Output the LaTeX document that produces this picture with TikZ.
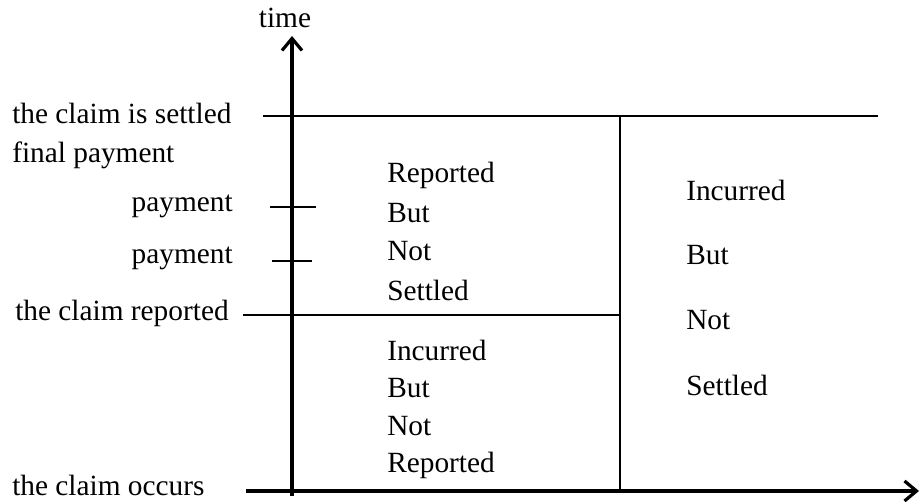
\documentclass[tikz,border=0pt]{standalone}
\usepackage{fontspec}
\setmainfont{Liberation Serif}
\usetikzlibrary{positioning,arrows.meta}

\begin{document}
\begin{tikzpicture}[x=0.75pt, y=-0.75pt, font=\fontsize{22}{26}\selectfont,
    axis/.style={line width=2.6pt, -{Straight Barb[length=9pt,width=15pt,line width=2.4pt]}},
    bound/.style={line width=1.7pt},
    lbl/.style={inner sep=0pt, anchor=west},
    rlbl/.style={inner sep=0pt, anchor=east}]
    \useasboundingbox (0,0) rectangle (921,502);

    % axes
    \coordinate (O) at (292,491);
    \coordinate (Ystart) at (292,496);
    \coordinate (Ytop) at (292,36);
    \coordinate (Xstart) at (246,491);
    \coordinate (Xend) at (919,491);
    \draw [axis] (Ystart) -- (Ytop);
    \draw [axis] (Xstart) -- (Xend);
    \node [inner sep=0pt] (Time) at (285,18) {time};

    % event lines
    \coordinate (SettledL) at (263,116);
    \coordinate (SettledR) at (878,116);
    \coordinate (ReportL) at (243,315);
    \coordinate (ReportR) at (620,315);
    \coordinate (DivTop) at (620,116);
    \coordinate (DivBot) at (620,491);
    \coordinate (PayAL) at (270,207);
    \coordinate (PayAR) at (316,207);
    \coordinate (PayBL) at (272,261);
    \coordinate (PayBR) at (312,261);
    \draw [bound] (SettledL) -- (SettledR);
    \draw [bound] (ReportL) -- (ReportR);
    \draw [bound] (DivTop) -- (DivBot);
    \draw [bound] (PayAL) -- (PayAR);
    \draw [bound] (PayBL) -- (PayBR);

    % labels on the left
    \node [lbl] (Settled) at (12,113) {the claim is settled};
    \node [lbl] (Final) at (12,155) {final payment};
    \node [rlbl] (PayA) at (233,206) {payment};
    \node [rlbl] (PayB) at (233,258) {payment};
    \node [lbl] (Reported) at (15,313) {the claim reported};
    \node [lbl] (Occurs) at (12,485) {the claim occurs};

    % RBNS
    \node [lbl] (RbA) at (387,175) {Reported};
    \node [lbl] (RbB) at (387,213) {But};
    \node [lbl] (RbC) at (387,251) {Not};
    \node [lbl] (RbD) at (387,290) {Settled};
    % IBNR
    \node [lbl] (IbA) at (387,350) {Incurred};
    \node [lbl] (IbB) at (387,388) {But};
    \node [lbl] (IbC) at (387,426) {Not};
    \node [lbl] (IbD) at (387,465) {Reported};
    % IBNS
    \node [lbl] (InA) at (686,190) {Incurred};
    \node [lbl] (InB) at (686,255) {But};
    \node [lbl] (InC) at (686,320) {Not};
    \node [lbl] (InD) at (686,385) {Settled};
\end{tikzpicture}
\end{document}
